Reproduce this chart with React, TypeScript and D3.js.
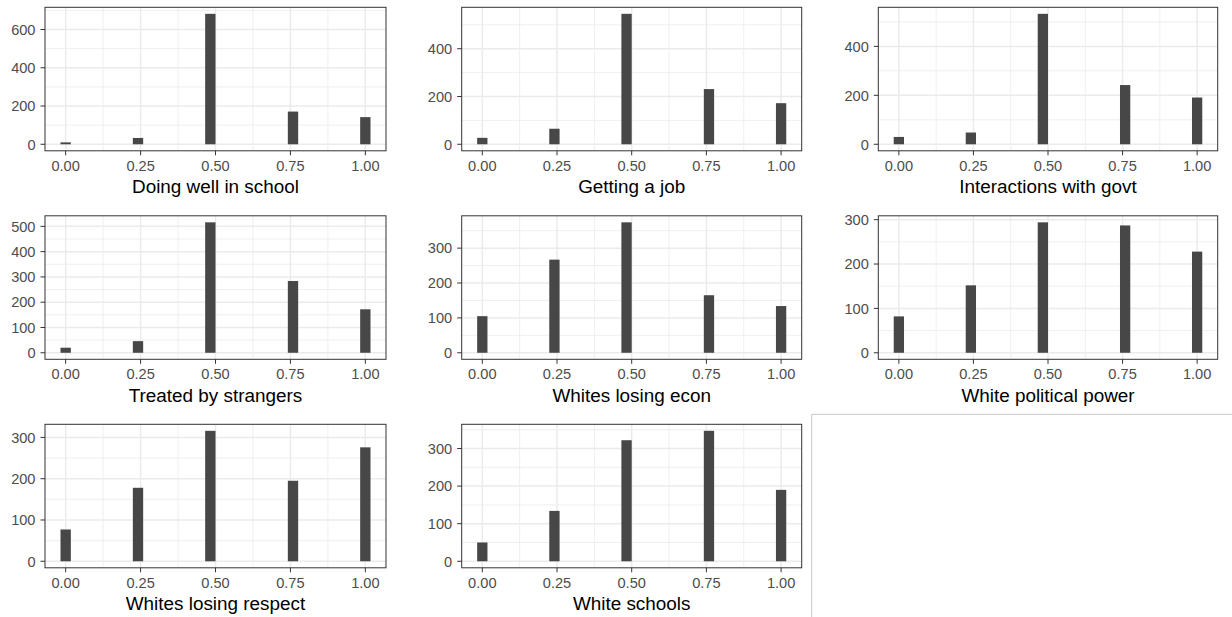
import React from "react";
import * as d3 from "d3";

const xValues = [0, 0.25, 0.5, 0.75, 1];
const xTickLabels = ["0.00", "0.25", "0.50", "0.75", "1.00"];

const titles = [
  "Doing well in school",
  "Getting a job",
  "Interactions with govt",
  "Treated by strangers",
  "Whites losing econ",
  "White political power",
  "Whites losing respect",
  "White schools",
];

const countsSchool = [10, 33, 682, 171, 142];
const countsJob = [27, 65, 546, 231, 172];
const countsGovt = [30, 48, 533, 242, 191];
const countsStrangers = [20, 46, 516, 284, 172];
const countsEcon = [105, 267, 374, 165, 134];
const countsPower = [82, 152, 294, 287, 228];
const countsRespect = [77, 178, 316, 195, 276];
const countsSchools = [50, 134, 322, 347, 190];

const yTicksSchool = [0, 200, 400, 600];
const yTicksJob = [0, 200, 400];
const yTicksGovt = [0, 200, 400];
const yTicksStrangers = [0, 100, 200, 300, 400, 500];
const yTicksEcon = [0, 100, 200, 300];
const yTicksPower = [0, 100, 200, 300];
const yTicksRespect = [0, 100, 200, 300];
const yTicksSchools = [0, 100, 200, 300];

const allCounts = [
  countsSchool, countsJob, countsGovt, countsStrangers,
  countsEcon, countsPower, countsRespect, countsSchools,
];
const allYTicks = [
  yTicksSchool, yTicksJob, yTicksGovt, yTicksStrangers,
  yTicksEcon, yTicksPower, yTicksRespect, yTicksSchools,
];

const BINS = 29; // bin width = 1/29 (ggplot bins = 30)
const colLeft = [45, 461.7, 878.3];
const colRight = [386, 801.7, 1217.7];
const rowTop = [7.3, 215.8, 424.3];
const panelH = 143.5;

const FONT = "'Liberation Sans', Arial, Helvetica, sans-serif";
const gridColor = "#ebebeb";
const borderColor = "#333333";
const barColor = "#474747";

function Panel({ idx }: { idx: number }) {
  const col = idx % 3;
  const row = Math.floor(idx / 3);
  const left = colLeft[col];
  const right = colRight[col];
  const top = rowTop[row];
  const bottom = top + panelH;
  const counts = allCounts[idx];
  const yTicks = allYTicks[idx];

  const bins = xValues.map((v, i) => {
    const k = Math.ceil(v * BINS - 0.5);
    return { x0: (k - 0.5) / BINS, x1: (k + 0.5) / BINS, count: counts[i] };
  });
  const xMin = d3.min(bins, (b) => b.x0)!;
  const xMax = d3.max(bins, (b) => b.x1)!;
  const xPad = (xMax - xMin) * 0.05;
  const x = d3.scaleLinear().domain([xMin - xPad, xMax + xPad]).range([left, right]);
  const yMax = d3.max(counts)!;
  const y = d3.scaleLinear().domain([-0.05 * yMax, 1.05 * yMax]).range([bottom, top]);

  const xStep = xValues[1] - xValues[0];
  const xMinor = [xValues[0] - xStep, ...xValues, xValues[xValues.length - 1] + xStep]
    .slice(0, -1)
    .map((v) => v + xStep / 2)
    .filter((v) => v > x.domain()[0] && v < x.domain()[1]);
  const yStep = yTicks[1] - yTicks[0];
  const yExt = [yTicks[0] - yStep, ...yTicks, yTicks[yTicks.length - 1] + yStep];
  const yMinor = yExt
    .slice(0, -1)
    .map((v) => v + yStep / 2)
    .filter((v) => v > y.domain()[0] && v < y.domain()[1]);

  return (
    <g>
      <rect x={left} y={top} width={right - left} height={panelH} fill="#fff" />
      {xMinor.map((v) => (
        <line key={"xm" + v} x1={x(v)} x2={x(v)} y1={top} y2={bottom} stroke={gridColor} strokeWidth={0.8} />
      ))}
      {yMinor.map((v) => (
        <line key={"ym" + v} x1={left} x2={right} y1={y(v)} y2={y(v)} stroke={gridColor} strokeWidth={0.8} />
      ))}
      {xValues.map((v) => (
        <line key={"xM" + v} x1={x(v)} x2={x(v)} y1={top} y2={bottom} stroke={gridColor} strokeWidth={1.5} />
      ))}
      {yTicks.map((v) => (
        <line key={"yM" + v} x1={left} x2={right} y1={y(v)} y2={y(v)} stroke={gridColor} strokeWidth={1.5} />
      ))}
      {bins.map((b, i) => (
        <rect
          key={"b" + i}
          x={x(b.x0)}
          y={y(b.count)}
          width={x(b.x1) - x(b.x0)}
          height={y(0) - y(b.count)}
          fill={barColor}
        />
      ))}
      <rect x={left} y={top} width={right - left} height={panelH} fill="none" stroke={borderColor} strokeWidth={1} />
      {yTicks.map((v) => (
        <g key={"yt" + v}>
          <line x1={left - 4.5} x2={left} y1={y(v)} y2={y(v)} stroke={borderColor} strokeWidth={1} />
          <text
            x={left - 9.5}
            y={y(v)}
            dy="0.36em"
            textAnchor="end"
            fontFamily={FONT}
            fontSize={14.6}
            fill="#4d4d4d"
          >
            {v}
          </text>
        </g>
      ))}
      {xValues.map((v, i) => (
        <g key={"xt" + v}>
          <line x1={x(v)} x2={x(v)} y1={bottom} y2={bottom + 4.5} stroke={borderColor} strokeWidth={1} />
          <text
            x={x(v)}
            y={bottom + 19.8}
            textAnchor="middle"
            fontFamily={FONT}
            fontSize={14.6}
            fill="#4d4d4d"
          >
            {xTickLabels[i]}
          </text>
        </g>
      ))}
      <text
        x={(left + right) / 2}
        y={bottom + 42.2}
        textAnchor="middle"
        fontFamily={FONT}
        fontSize={18.9}
        fill="#000"
      >
        {titles[idx]}
      </text>
    </g>
  );
}

export default function App() {
  return (
    <svg
      width={1232}
      height={617}
      style={{ position: "absolute", left: 0, top: 0, background: "#fff" }}
    >
      <rect x={0} y={0} width={1232} height={617} fill="#fff" />
      {titles.map((_, i) => (
        <Panel key={i} idx={i} />
      ))}
      <line x1={811.7} x2={811.7} y1={414.3} y2={617} stroke="#c8c8c8" strokeWidth={1} />
      <line x1={811.7} x2={1232} y1={414.3} y2={414.3} stroke="#c8c8c8" strokeWidth={1} />
    </svg>
  );
}
